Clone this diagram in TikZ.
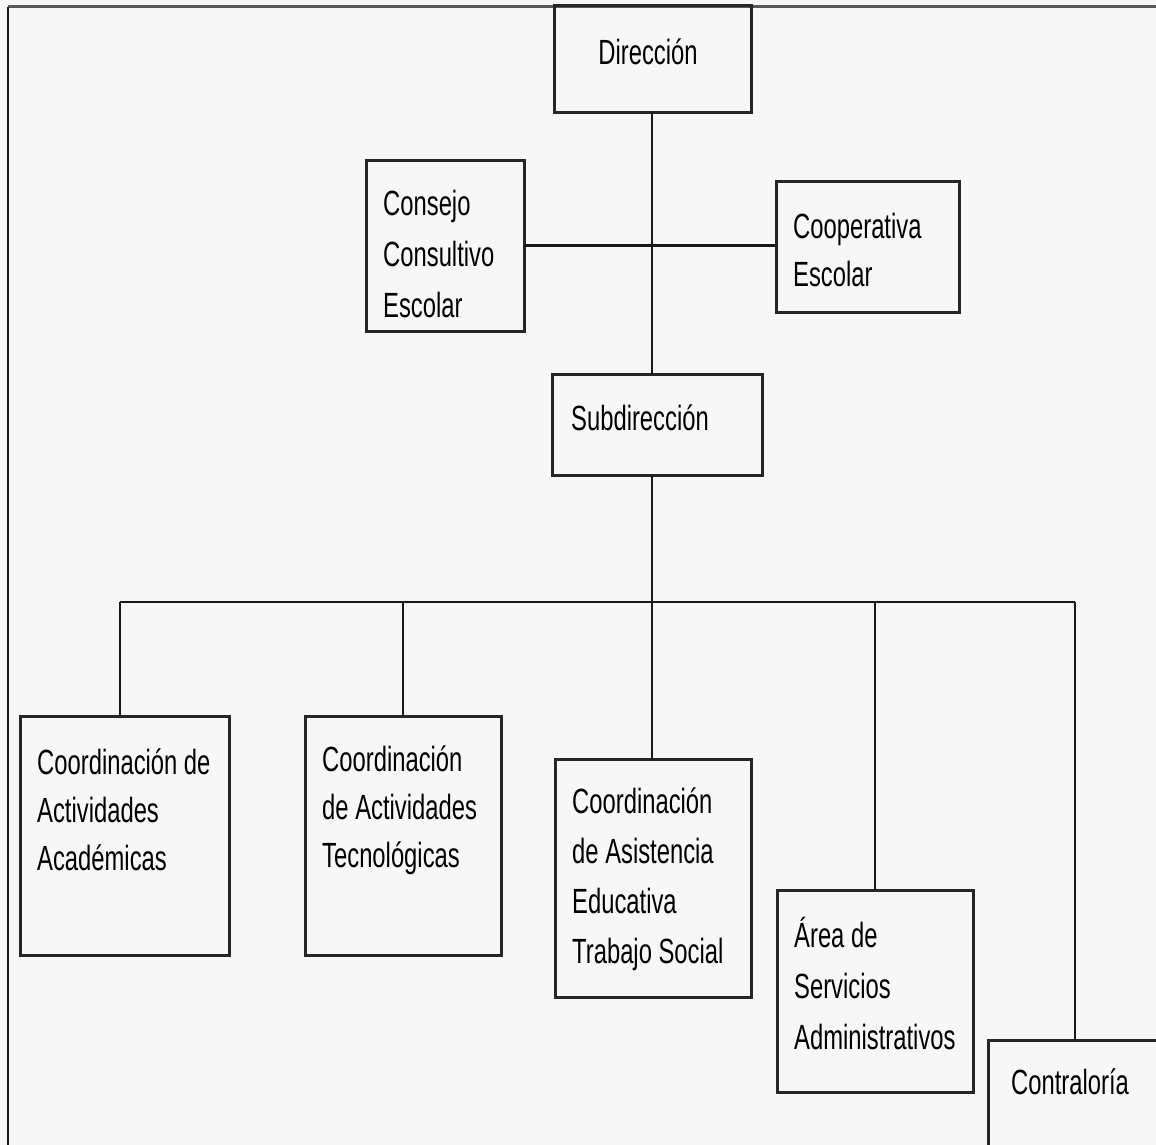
\documentclass[tikz,border=0pt]{standalone}
\usepackage{fontspec}
\setmainfont[FakeStretch=0.68]{Liberation Sans}
\begin{document}
\begin{tikzpicture}[x=1pt,y=-1pt,
  box/.style={draw=black!85, line width=3pt, rectangle, inner sep=0pt, outer sep=0pt},
  lbl/.style={align=left, inner sep=0pt, text=black, font=\fontsize{35}{48}\selectfont},
  conn/.style={draw=black!90, line width=2.4pt}]
\useasboundingbox (0,0) rectangle (1156,1145);
\fill[black!3] (0,0) rectangle (1156,1145);
\clip (0,0) rectangle (1156,1145);
% frame
\draw[black!65, line width=3pt] (8,7) -- (1160,7);
\draw[black!90, line width=2pt] (8,7) -- (8,1150);
% boxes
\node[box, minimum width=197, minimum height=107] (dir) at (652.5,59.5) {};
\node[box, minimum width=158, minimum height=171] (con) at (445,245.5) {};
\node[box, minimum width=183, minimum height=131] (coop) at (867.5,246.5) {};
\node[box, minimum width=210, minimum height=101] (sub) at (657,424.5) {};
\node[box, minimum width=209, minimum height=239] (b1) at (124.5,835.5) {};
\node[box, minimum width=196, minimum height=239] (b2) at (403,835.5) {};
\node[box, minimum width=196, minimum height=238] (b3) at (653,878) {};
\node[box, minimum width=196, minimum height=202] (b4) at (875,991) {};
\node[box, minimum width=192, minimum height=120] (b5) at (1084,1100) {};
% labels
\node[lbl] (tdir) at (648,52) {Dirección};
\node[lbl, anchor=west, font=\fontsize{35}{51}\selectfont] (tcon) at (383,254) {Consejo\\Consultivo\\Escolar};
\node[lbl, anchor=west] (tcoop) at (793,250) {Cooperativa\\Escolar};
\node[lbl] (tsub) at (640,418) {Subdirección};
\node[lbl, anchor=west] (t1) at (37,810) {Coordinación de\\Actividades\\Académicas};
\node[lbl, anchor=west] (t2) at (322,810) {Coordinación\\de Actividades\\Tecnológicas};
\node[lbl, anchor=west, font=\fontsize{35}{50}\selectfont] (t3) at (572,879) {Coordinación\\de Asistencia\\Educativa\\Trabajo Social};
\node[lbl, anchor=west, font=\fontsize{35}{51}\selectfont] (t4) at (794,983) {Área de\\Servicios\\Administrativos};
\node[lbl] (t5) at (1070,1082) {Contraloría};
% connectors
\coordinate (busL) at (120,602);
\coordinate (busR) at (1075,602);
\coordinate (trunk) at (652,602);
\draw[conn] (dir.south -| trunk) -- (sub.north -| trunk);
\draw[conn] (con.east) -- (con.east -| coop.west);
\draw[conn] (sub.south -| trunk) -- (trunk);
\draw[conn] (busL) -- (busR);
\draw[conn] (busL) -- (busL |- b1.north);
\draw[conn] (b2.north |- busL) -- (b2.north);
\draw[conn] (trunk) -- (trunk |- b3.north);
\draw[conn] (b4.north |- busL) -- (b4.north);
\draw[conn] (busR) -- (busR |- b5.north);
\end{tikzpicture}
\end{document}
